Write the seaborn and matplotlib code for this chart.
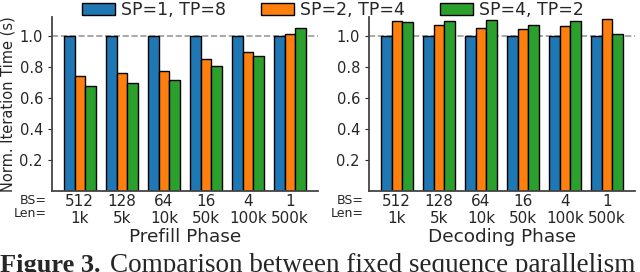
import pandas as pd
import seaborn as sns
import matplotlib.pyplot as plt

# values
configs = ['SP=1, TP=8', 'SP=2, TP=4', 'SP=4, TP=2']
bs_labels = ['512', '128', '64', '16', '4', '1']
len_labels = ['1k', '5k', '10k', '50k', '100k', '500k']

prefill_sp1 = [1.0, 1.0, 1.0, 1.0, 1.0, 1.0]
prefill_sp2 = [0.742, 0.759, 0.770, 0.849, 0.897, 1.013]
prefill_sp4 = [0.677, 0.697, 0.714, 0.806, 0.871, 1.047]

decode_sp1 = [1.0, 1.0, 1.0, 1.0, 1.0, 1.0]
decode_sp2 = [1.095, 1.069, 1.047, 1.045, 1.062, 1.105]
decode_sp4 = [1.086, 1.095, 1.100, 1.069, 1.097, 1.010]

colors = ['#1f77b4', '#ff7f0e', '#2ca02c']
xticklabels = [f'{b}\n{l}' for b, l in zip(bs_labels, len_labels)]


def make_df(series):
    rows = []
    for cfg, vals in zip(configs, series):
        for i, v in enumerate(vals):
            rows.append({'case': xticklabels[i], 'config': cfg, 'time': v})
    return pd.DataFrame(rows)


prefill_df = make_df([prefill_sp1, prefill_sp2, prefill_sp4])
decode_df = make_df([decode_sp1, decode_sp2, decode_sp4])

sns.set_style('ticks')
plt.rcParams['font.family'] = ['DejaVu Sans']

fig = plt.figure(figsize=(6.4, 2.72), dpi=100)
ax1 = fig.add_axes([52 / 640, 81 / 272, 266 / 640, 174 / 272])
ax2 = fig.add_axes([369 / 640, 81 / 272, 266 / 640, 174 / 272])

for ax, df, name in [(ax1, prefill_df, 'Prefill Phase'), (ax2, decode_df, 'Decoding Phase')]:
    sns.barplot(data=df, x='case', y='time', hue='config', palette=colors, saturation=1,
                width=0.75, edgecolor='black', linewidth=1.0, ax=ax, legend=(ax is ax1))
    ax.axhline(1.0, color='#999999', linestyle='--', linewidth=1.2, zorder=0)
    ax.set_ylim(0, 1.12)
    ax.set_xlim(-0.66, 5.66)
    ax.set_yticks([0.2, 0.4, 0.6, 0.8, 1.0])
    ax.tick_params(axis='y', labelsize=10.5, length=3, width=0.8)
    ax.tick_params(axis='x', labelsize=11, length=0, pad=2)
    ax.set_xlabel(name, fontsize=13.3, labelpad=1)
    ax.set_ylabel('')
    for s in ['left', 'bottom']:
        ax.spines[s].set_color('#444444')
        ax.spines[s].set_linewidth(1.3)
    sns.despine(ax=ax)
    ax.text(-0.02, -0.052, 'BS=', transform=ax.transAxes, ha='right', va='center', fontsize=9)
    ax.text(-0.02, -0.13, 'Len=', transform=ax.transAxes, ha='right', va='center', fontsize=9)

ax1.set_ylabel('Norm. Iteration Time (s)', fontsize=10.5, labelpad=3)

handles, labels = ax1.get_legend_handles_labels()
ax1.get_legend().remove()
fig.legend(handles, labels, loc='upper center', bbox_to_anchor=(0.52, 1.035), ncol=3,
           frameon=False, fontsize=12.5, handlelength=1.9, handleheight=0.7,
           handletextpad=0.35, columnspacing=2.0, borderpad=0.1)

# caption strip, cut at the bottom edge like in the reference
fig.text(0.0, 0.0, 'Figure 3.', fontsize=19, family='Liberation Serif', weight='bold', va='baseline')
fig.text(0.172, 0.0, 'Comparison between fixed sequence parallelism', fontsize=19.5,
         family='Liberation Serif', va='baseline')

fig.savefig('out.png', dpi=100)
